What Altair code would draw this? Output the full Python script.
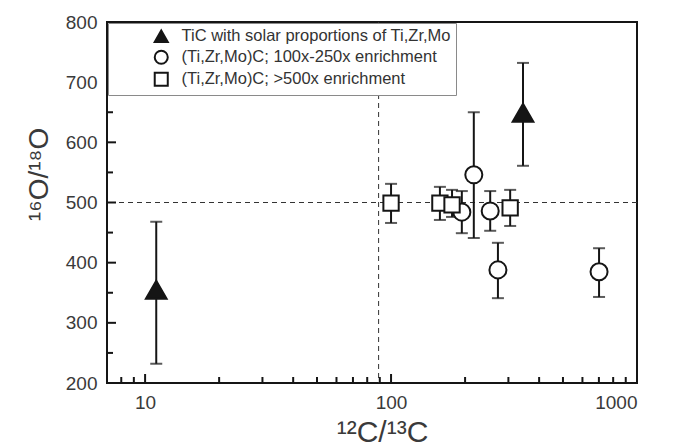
import altair as alt
import pandas as pd

FONT = "Liberation Sans"
W, H = 530, 361

series_names = [
    "TiC with solar proportions of Ti,Zr,Mo",
    "(Ti,Zr,Mo)C; 100x-250x enrichment",
    "(Ti,Zr,Mo)C; >500x enrichment",
]

# TiC with solar proportions (filled triangles)
tic_c = [11.1, 344]
tic_o = [355, 649]
tic_lo = [232, 561]
tic_hi = [468, 732]

# 100x-250x enrichment (open circles)
mid_c = [194, 217, 253, 272, 701]
mid_o = [484, 546, 486, 388, 385]
mid_lo = [449, 441, 453, 341, 343]
mid_hi = [519, 650, 519, 433, 424]

# >500x enrichment (open squares)
hi_c = [100, 158, 177, 305]
hi_o = [499, 499, 496, 491]
hi_lo = [466, 471, 476, 461]
hi_hi = [531, 526, 521, 521]

# reference lines
vline_c = [89]
hline_o = [500]

# axis tick values
x_label_vals = [10, 100, 1000]
y_label_vals = [200, 300, 400, 500, 600, 700, 800]
x_major = [10, 100]
x_minor = [8, 9, 20, 30, 40, 50, 60, 70, 80, 90, 200, 300, 400, 500, 600, 700, 800, 900]
y_major = [300, 400, 500, 600, 700]
y_minor = [250, 350, 450, 550, 650, 750]

rows = []
for name, cs, os_, los, his in [
    (series_names[0], tic_c, tic_o, tic_lo, tic_hi),
    (series_names[1], mid_c, mid_o, mid_lo, mid_hi),
    (series_names[2], hi_c, hi_o, hi_lo, hi_hi),
]:
    for c, o, lo, hi in zip(cs, os_, los, his):
        rows.append({"series": name, "c": c, "o": o, "lo": lo, "hi": hi})
df = pd.DataFrame(rows)

xscale = alt.Scale(type="log", domain=[7, 1000], nice=False)
yscale = alt.Scale(domain=[200, 800], zero=False, nice=False)

xaxis = alt.Axis(
    values=x_label_vals, format="d", title="¹²C/¹³C",
    titleFontSize=30, titleX=275, titleY=58, titleAlign="center",
    titleBaseline="alphabetic", labelPadding=10, grid=False,
)
yaxis = alt.Axis(
    values=y_label_vals, format="d", title="¹⁶O/¹⁸O",
    titleFontSize=28, titleX=-60, titleY=152, titleAlign="center",
    titleBaseline="alphabetic", labelPadding=10, grid=False,
)

X = alt.X("c:Q", scale=xscale, axis=xaxis)
Y = alt.Y("o:Q", scale=yscale, axis=yaxis)

dark = "#151515"

vline = alt.Chart(pd.DataFrame({"c": vline_c})).mark_rule(
    color="#333", strokeWidth=1, strokeDash=[5, 4]
).encode(x=alt.X("c:Q", scale=xscale))
hline = alt.Chart(pd.DataFrame({"o": hline_o})).mark_rule(
    color="#333", strokeWidth=1, strokeDash=[5, 4]
).encode(y=alt.Y("o:Q", scale=yscale))

ymaj = alt.Chart(pd.DataFrame({"o": y_major})).mark_rule(color=dark, strokeWidth=2).encode(
    y=alt.Y("o:Q", scale=yscale), x=alt.value(0), x2=alt.value(9))
ymin = alt.Chart(pd.DataFrame({"o": y_minor})).mark_rule(color=dark, strokeWidth=2).encode(
    y=alt.Y("o:Q", scale=yscale), x=alt.value(0), x2=alt.value(6))
xmaj = alt.Chart(pd.DataFrame({"c": x_major})).mark_rule(color=dark, strokeWidth=2).encode(
    x=alt.X("c:Q", scale=xscale), y=alt.value(H), y2=alt.value(H - 9))
xmin = alt.Chart(pd.DataFrame({"c": x_minor})).mark_rule(color=dark, strokeWidth=2).encode(
    x=alt.X("c:Q", scale=xscale), y=alt.value(H), y2=alt.value(H - 6))

base = alt.Chart(df)
err = base.mark_rule(color=dark, strokeWidth=2).encode(
    x=alt.X("c:Q", scale=xscale), y=alt.Y("lo:Q", scale=yscale), y2="hi:Q")
cap_hi = base.mark_tick(orient="horizontal", color=dark, thickness=2, size=12).encode(
    x=alt.X("c:Q", scale=xscale), y=alt.Y("hi:Q", scale=yscale))
cap_lo = base.mark_tick(orient="horizontal", color=dark, thickness=2, size=12).encode(
    x=alt.X("c:Q", scale=xscale), y=alt.Y("lo:Q", scale=yscale))

legend = alt.Legend(
    title="", orient="top-left", offset=1, fillColor="white",
    strokeColor="#8a8a8a", padding=5, symbolOffset=40, labelOffset=12,
    labelFontSize=16.5, labelFont=FONT, labelColor="#333", rowPadding=0,
    symbolSize=170, symbolStrokeWidth=2, symbolStrokeColor=dark,
    titlePadding=0, labelLimit=400,
)
shape_enc = alt.Shape("series:N", scale=alt.Scale(domain=series_names,
                      range=["triangle-up", "circle", "square"]), legend=legend)
fill_enc = alt.Fill("series:N", scale=alt.Scale(domain=series_names,
                    range=[dark, "white", "white"]), legend=legend)
stroke_enc = alt.Stroke("series:N", scale=alt.Scale(domain=series_names,
                        range=[dark, dark, dark]), legend=legend)


def point_layer(name, size):
    return base.transform_filter(
        alt.datum.series == name
    ).mark_point(strokeWidth=2, opacity=1, size=size).encode(
        x=X, y=Y, shape=shape_enc, fill=fill_enc, stroke=stroke_enc)


pts_tri = point_layer(series_names[0], 430)
pts_circ = point_layer(series_names[1], 290)
pts_sq = point_layer(series_names[2], 235)

chart = alt.layer(vline, hline, ymaj, ymin, xmaj, xmin, err, cap_hi, cap_lo,
                  pts_tri, pts_circ, pts_sq).properties(
    width=W, height=H,
    background="white",
    autosize=alt.AutoSizeParams(type="none"),
    padding={"left": 107, "top": 22, "right": 39, "bottom": 64},
).configure_view(
    stroke=dark, strokeWidth=2
).configure_axis(
    domain=False, ticks=False, grid=False,
    labelFont=FONT, labelFontSize=19, labelColor="#3a3a3a",
    titleFont=FONT, titleColor="#3a3a3a", titleFontWeight="normal",
)

chart.save("out.html", embed_options={"renderer": "svg", "actions": False})
